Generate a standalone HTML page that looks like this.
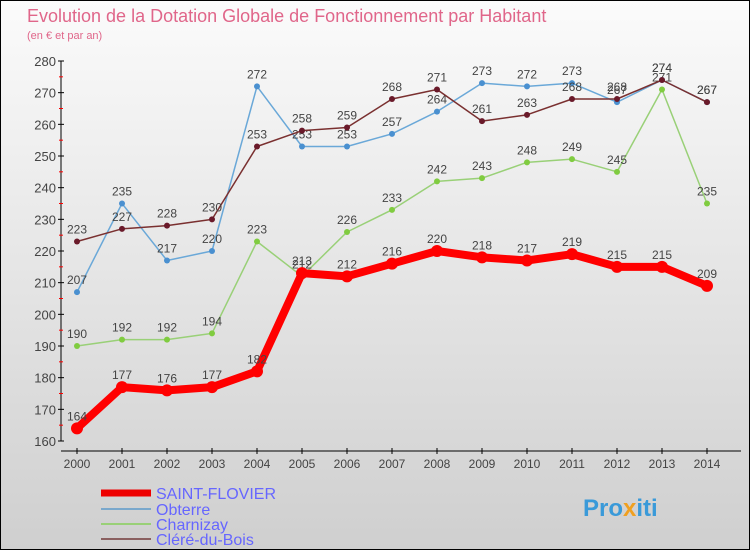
<!DOCTYPE html>
<html><head><meta charset="utf-8"><style>
body{margin:0}
#c{width:748px;height:548px;border:1px solid #000;background:linear-gradient(#fbfbfb,#cfcfcf);position:relative;font-family:"Liberation Sans",sans-serif;overflow:hidden}
</style></head><body>
<div id="c">
<svg id="s" width="748" height="548" xmlns="http://www.w3.org/2000/svg" font-family="Liberation Sans, sans-serif">
<text x="26" y="21" font-size="18" fill="#e0668a">Evolution de la Dotation Globale de Fonctionnement par Habitant</text>
<text x="26" y="38" font-size="11" fill="#e0668a">(en € et par an)</text>
<g id="axes"></g><g id="series"></g>
<g font-size="16" fill="#6666ff">
<line x1="100" y1="492" x2="150" y2="492" stroke="#e00" stroke-width="7"/><text x="155" y="498">SAINT-FLOVIER</text>
<line x1="100" y1="508" x2="150" y2="508" stroke="#7aa8cc" stroke-width="2"/><text x="155" y="514">Obterre</text>
<line x1="100" y1="523" x2="150" y2="523" stroke="#99d077" stroke-width="2"/><text x="155" y="529">Charnizay</text>
<line x1="100" y1="538" x2="150" y2="538" stroke="#8a6060" stroke-width="2"/><text x="155" y="544">Cléré-du-Bois</text>
</g>
<text x="582" y="515" font-size="24" font-weight="bold" fill="#3a9ad9">Pro<tspan fill="#f0a020">x</tspan>iti</text>
</svg></div>
<script>
const years=[2000,2001,2002,2003,2004,2005,2006,2007,2008,2009,2010,2011,2012,2013,2014];
const saint=[164,177,176,177,182,213,212,216,220,218,217,219,215,215,209];
const obterre=[207,235,217,220,272,253,253,257,264,273,272,273,267,274,267];
const charnizay=[190,192,192,194,223,212,226,233,242,243,248,249,245,271,235];
const clere=[223,227,228,230,253,258,259,268,271,261,263,268,268,274,267];
const yTicks=[160,170,180,190,200,210,220,230,240,250,260,270,280];
const NS="http://www.w3.org/2000/svg";
const X=i=>76+i*45, Y=v=>440-(v-160)*380/120;
function mk(t,a,p){const e=document.createElementNS(NS,t);for(const k in a)e.setAttribute(k,a[k]);p.appendChild(e);return e;}
const ax=document.getElementById('axes');
let l=mk('line',{x1:60,y1:60,x2:60,y2:440,stroke:'#000'},ax);


l=mk('line',{x1:60,y1:450,x2:740,y2:450,stroke:'#000'},ax);


yTicks.forEach(v=>{mk('line',{x1:57,y1:Y(v),x2:63,y2:Y(v),stroke:'#000'},ax);
 if(v<280)mk('line',{x1:58,y1:Y(v+5),x2:62,y2:Y(v+5),stroke:'#f00'},ax);
 const t=mk('text',{x:55,y:Y(v)+5,'text-anchor':'end','font-size':13,fill:'#444'},ax);t.textContent=v;
 
 });
years.forEach((y,i)=>{mk('line',{x1:X(i),y1:447,x2:X(i),y2:453,stroke:'#000'},ax);
 const t=mk('text',{x:X(i),y:467,'text-anchor':'middle','font-size':12,fill:'#444'},ax);t.textContent=y;
 
 });
const sg=document.getElementById('series');
function draw(d,col,w,r,name,dot){
 const g=mk('g',{},sg);
 
 
 mk('polyline',{points:d.map((v,i)=>X(i)+','+Y(v)).join(' '),fill:'none',stroke:col,'stroke-width':w,'stroke-linejoin':'round'},g);
 d.forEach((v,i)=>{const c=mk('circle',{cx:X(i),cy:Y(v),r:r,fill:dot},g);
  
  
  const t=mk('text',{x:X(i),y:Y(v)-8,'text-anchor':'middle','font-size':12,fill:'#444'},g);t.textContent=v;});
}
draw(charnizay,'#99d077',1.5,3,'series-charnizay','#80cc40');
draw(obterre,'#6aa8d8',1.5,3,'series-obterre','#4a90d0');
draw(clere,'#7a3030',1.5,3,'series-clere-du-bois','#6a1a2a');
draw(saint,'#f00',8,6,'series-saint-flovier','#f00');
</script>
</body></html>
